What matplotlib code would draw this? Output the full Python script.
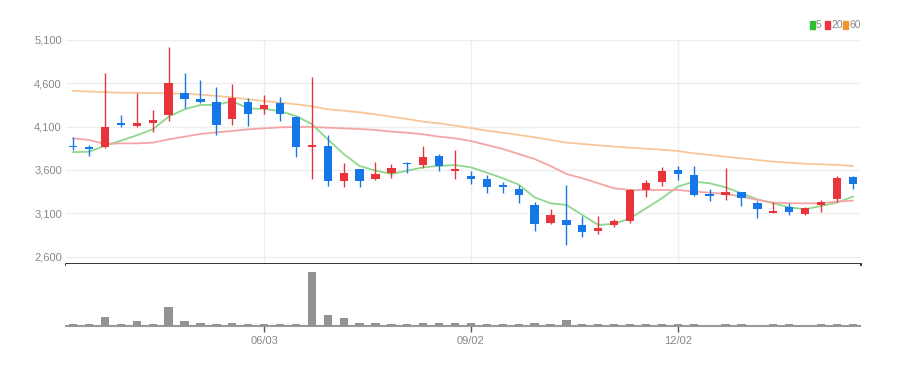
import matplotlib
matplotlib.use("Agg")
import matplotlib.pyplot as plt
from matplotlib.patches import Rectangle
from matplotlib import font_manager
import numpy as np
import pandas as pd

_names = {f.name for f in font_manager.fontManager.ttflist}
_fam = [n for n in ['Liberation Sans Narrow', 'Liberation Sans', 'DejaVu Sans'] if n in _names]
plt.rcParams['font.family'] = _fam

# ---------------- data (weekly candles) ----------------
dates = pd.date_range('2024-03-11', periods=50, freq='W-MON').strftime('%m/%d').tolist()

opens = [3880, 3865, 3860, 4140, 4110, 4140, 4235, 4490, 4420, 4380,
         4185, 4380, 4305, 4370, 4215, 3870, 3880, 3475, 3610, 3495,
         3570, 3680, 3660, 3760, 3590, 3535, 3490, 3425, 3375, 3195,
         2985, 3020, 2960, 2900, 2960, 3005, 3370, 3465, 3605, 3540,
         3325, 3305, 3340, 3215, 3110, 3175, 3095, 3195, 3260, 3515]
highs = [3980, 3890, 4715, 4235, 4485, 4290, 5020, 4715, 4640, 4560,
         4590, 4430, 4465, 4445, 4220, 4670, 4005, 3680, 3615, 3690,
         3665, 3690, 3875, 3785, 3830, 3590, 3540, 3465, 3425, 3235,
         3150, 3430, 3070, 3070, 3030, 3375, 3485, 3630, 3640, 3640,
         3375, 3620, 3345, 3245, 3235, 3215, 3170, 3255, 3525, 3525]
lows = [3830, 3760, 3855, 4100, 4095, 4040, 4160, 4315, 4370, 4005,
        4120, 4105, 4245, 4170, 3755, 3495, 3410, 3400, 3400, 3480,
        3510, 3570, 3620, 3590, 3490, 3440, 3330, 3330, 3215, 2890,
        2980, 2735, 2825, 2860, 2945, 2990, 3285, 3415, 3485, 3300,
        3245, 3255, 3185, 3040, 3100, 3080, 3085, 3120, 3235, 3375]
closes = [3860, 3840, 4100, 4120, 4140, 4175, 4600, 4420, 4385, 4120,
          4425, 4245, 4355, 4245, 3870, 3880, 3475, 3570, 3475, 3555,
          3620, 3665, 3755, 3645, 3605, 3495, 3405, 3410, 3310, 2975,
          3080, 2965, 2880, 2925, 3015, 3370, 3455, 3590, 3550, 3310,
          3300, 3340, 3275, 3145, 3125, 3110, 3165, 3230, 3505, 3440]

ma5 = [3805, 3811, 3878, 3938, 4000, 4069, 4215, 4300, 4350, 4350,
       4395, 4310, 4304, 4280, 4223, 4130, 3953, 3784, 3646, 3592,
       3553, 3592, 3630, 3646, 3657, 3630, 3569, 3504, 3431, 3284,
       3215, 3196, 3080, 2965, 2977, 3042, 3157, 3273, 3407, 3465,
       3446, 3400, 3330, 3261, 3215, 3169, 3146, 3184, 3223, 3292]
ma20 = [3965, 3946, 3900, 3907, 3907, 3915, 3953, 3984, 4015, 4034,
        4050, 4069, 4080, 4092, 4096, 4096, 4088, 4080, 4073, 4061,
        4042, 4030, 4011, 3984, 3965, 3934, 3888, 3842, 3784, 3726,
        3646, 3553, 3504, 3446, 3388, 3369, 3369, 3369, 3369, 3350,
        3338, 3323, 3292, 3254, 3223, 3215, 3215, 3215, 3234, 3246]
ma60 = [4512, 4505, 4498, 4492, 4490, 4488, 4485, 4478, 4470, 4454,
        4438, 4415, 4396, 4377, 4358, 4335, 4300, 4284, 4265, 4242,
        4215, 4188, 4157, 4138, 4111, 4084, 4053, 4030, 4004, 3977,
        3946, 3915, 3900, 3884, 3869, 3857, 3846, 3834, 3819, 3792,
        3773, 3753, 3734, 3715, 3696, 3684, 3672, 3665, 3658, 3646]

volumes = [9, 9, 45, 9, 24, 9, 95, 24, 14, 9,
           14, 9, 9, 9, 9, 270, 54, 39, 14, 14,
           9, 9, 17, 14, 17, 15, 9, 9, 9, 14,
           9, 32, 9, 9, 9, 9, 9, 9, 9, 9,
           2, 12, 9, 2, 9, 9, 2, 9, 12, 9]

tick_labels = ['06/03', '09/02', '12/02']
price_ticks = [2600, 3100, 3600, 4100, 4600, 5100]
legend_labels = ['5', '20', '60']

# ---------------- styling ----------------
UP = '#e8343a'
DOWN = '#1677e8'
MA_COLORS = ['#8ed88e', '#f4a6a6', '#f8c699']
LEG_COLORS = ['#2fbf2f', '#ee3344', '#f0962e']
GRID = '#eeeeee'
TXT = '#888888'

W, H = 906, 366
fig = plt.figure(figsize=(W / 100, H / 100), dpi=100)

def fx(px):
    return px / W

def fy(py):
    return 1 - py / H

left, right = 66, 860
ax = fig.add_axes([fx(left), fy(263.5), fx(right - left), fy(40) - fy(263.5)])
axv = fig.add_axes([fx(left), fy(326), fx(right - left), fy(264) - fy(326)])

x = np.arange(len(opens))

for i in x:
    o, h, l, c = opens[i], highs[i], lows[i], closes[i]
    col = UP if c >= o else DOWN
    ax.vlines(i, l, h, color=col, linewidth=1.0, zorder=3)
    body = abs(c - o)
    if body < 18:
        body = 18
        bottom = (o + c) / 2 - 9
    else:
        bottom = min(o, c)
    ax.bar(i, body, bottom=bottom, width=0.52, color=col, zorder=4, linewidth=0)

for series, colr in zip([ma5, ma20, ma60], MA_COLORS):
    ax.plot(x, series, color=colr, linewidth=1.3, zorder=2)

xlim = (-0.45, len(opens) - 0.55)
ax.set_xlim(*xlim)
ax.set_ylim(2520, 5100)
ax.set_yticks(price_ticks)
ax.set_yticklabels([f'{v:,}' for v in price_ticks], fontsize=8, color=TXT)
ax.tick_params(axis='y', length=0, pad=3)
tick_pos = [dates.index(t) for t in tick_labels]
ax.set_xticks(tick_pos)
ax.tick_params(axis='x', length=0, labelbottom=False)
ax.grid(True, color=GRID, linewidth=1.0, zorder=0)
ax.set_axisbelow(True)
for s in ['top', 'right', 'left']:
    ax.spines[s].set_visible(False)
ax.spines['bottom'].set_color('#222222')
ax.spines['bottom'].set_linewidth(2.0)

# volume panel
axv.bar(x, volumes, width=0.52, color='#939393', linewidth=0, zorder=3)
axv.set_xlim(*xlim)
axv.set_ylim(0, max(volumes) * 1.15)
axv.set_yticks([])
axv.set_xticks(tick_pos)
axv.set_xticklabels(tick_labels, fontsize=8, color=TXT)
axv.tick_params(axis='x', length=4, width=1, color='#555555', pad=3)
for s in ['top', 'right', 'left']:
    axv.spines[s].set_visible(False)
axv.spines['bottom'].set_color('#999999')
axv.spines['bottom'].set_linewidth(1.5)

# legend
leg_x = [810, 825, 843]
for lx, lab, colr in zip(leg_x, legend_labels, LEG_COLORS):
    fig.patches.append(Rectangle((fx(lx), fy(29)), fx(4.5), fy(21) - fy(29),
                                 transform=fig.transFigure, color=colr))
    fig.text(fx(lx + 6), fy(25), lab, fontsize=7.5, color=TXT, va='center', ha='left')

fig.savefig('out.png', dpi=100)
